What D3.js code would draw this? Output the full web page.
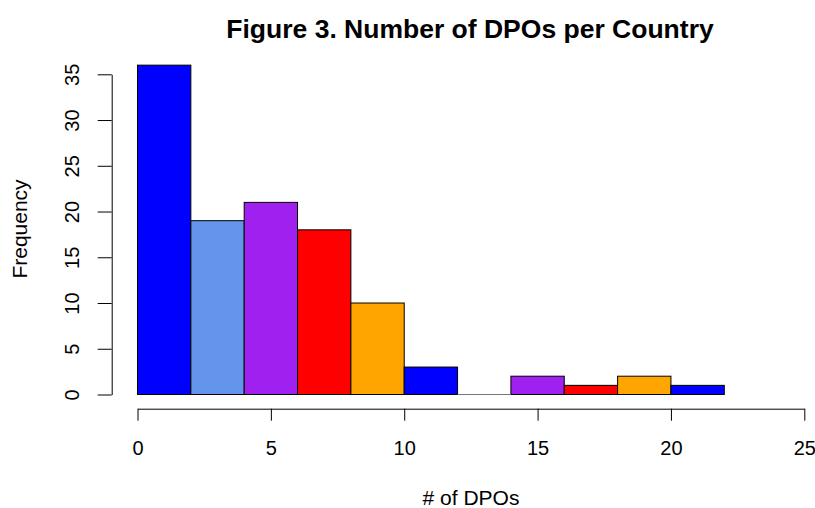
<!DOCTYPE html>
<html>
<head>
<meta charset="utf-8">
<script src="https://cdn.jsdelivr.net/npm/d3@7"></script>
<style>
  body { margin: 0; background: #fff; }
  svg { display: block; font-family: "Liberation Sans", Arial, sans-serif; }
</style>
</head>
<body>
<svg id="chart" width="815" height="508"></svg>
<script>
// Data
const binStarts = [0, 2, 4, 6, 8, 10, 12, 14, 16, 18, 20];
const binWidth = 2;
const frequencies = [36, 19, 21, 18, 10, 3, 0, 2, 1, 2, 1];
const barColors = ["#0000FF", "#6495ED", "#A020F0", "#FF0000", "#FFA500"];
const xTicks = [0, 5, 10, 15, 20, 25];
const yTicks = [0, 5, 10, 15, 20, 25, 30, 35];
const titleText = "Figure 3. Number of DPOs per Country";
const xLabel = "# of DPOs";
const yLabel = "Frequency";

const svg = d3.select("#chart");
const x = d3.scaleLinear().domain([0, 25]).range([137.5, 804.3]);
const y = d3.scaleLinear().domain([0, 35]).range([394.5, 74.3]);

const bins = binStarts.map((s, i) => ({ s, v: frequencies[i], i }));

// Bars
svg.append("g").selectAll("rect")
  .data(bins.filter(d => d.v > 0))
  .join("rect")
  .attr("x", d => x(d.s))
  .attr("width", d => x(d.s + binWidth) - x(d.s))
  .attr("y", d => y(d.v))
  .attr("height", d => y(0) - y(d.v))
  .attr("fill", d => barColors[d.i % barColors.length])
  .attr("stroke", "#000")
  .attr("stroke-width", 1);

// Zero-height bins drawn as a flat outline
svg.append("g").selectAll("line")
  .data(bins.filter(d => d.v === 0))
  .join("line")
  .attr("x1", d => x(d.s)).attr("x2", d => x(d.s + binWidth))
  .attr("y1", y(0)).attr("y2", y(0))
  .attr("stroke", "#777").attr("stroke-width", 1.2);

// Y axis
const yAxis = svg.append("g")
  .attr("transform", "translate(111.7,0)")
  .call(d3.axisLeft(y).tickValues(yTicks).tickSize(14).tickSizeOuter(0).tickPadding(0));
yAxis.select(".domain").attr("stroke", "#000");
yAxis.selectAll(".tick line").attr("stroke", "#000");
yAxis.selectAll(".tick text")
  .attr("transform", "rotate(-90)")
  .attr("x", 0).attr("y", -32.5).attr("dy", 0)
  .attr("text-anchor", "middle")
  .attr("font-size", 20).attr("fill", "#000")
  .attr("font-family", "Liberation Sans, Arial, sans-serif");

// X axis
const xAxis = svg.append("g")
  .attr("transform", "translate(0,408.7)")
  .call(d3.axisBottom(x).tickValues(xTicks).tickSize(12).tickSizeOuter(0).tickPadding(0));
xAxis.select(".domain").attr("stroke", "#000");
xAxis.selectAll(".tick line").attr("stroke", "#000");
xAxis.selectAll(".tick text")
  .attr("y", 46).attr("dy", 0)
  .attr("font-size", 20).attr("fill", "#000")
  .attr("font-family", "Liberation Sans, Arial, sans-serif");

// Title
svg.append("text")
  .attr("x", 470).attr("y", 38)
  .attr("text-anchor", "middle")
  .attr("font-size", 26.5).attr("font-weight", "bold")
  .text(titleText);

// X label
svg.append("text")
  .attr("x", 471).attr("y", 505)
  .attr("text-anchor", "middle")
  .attr("font-size", 21)
  .text(xLabel);

// Y label
svg.append("text")
  .attr("transform", "translate(27,229) rotate(-90)")
  .attr("text-anchor", "middle")
  .attr("font-size", 21)
  .text(yLabel);
</script>
</body>
</html>
